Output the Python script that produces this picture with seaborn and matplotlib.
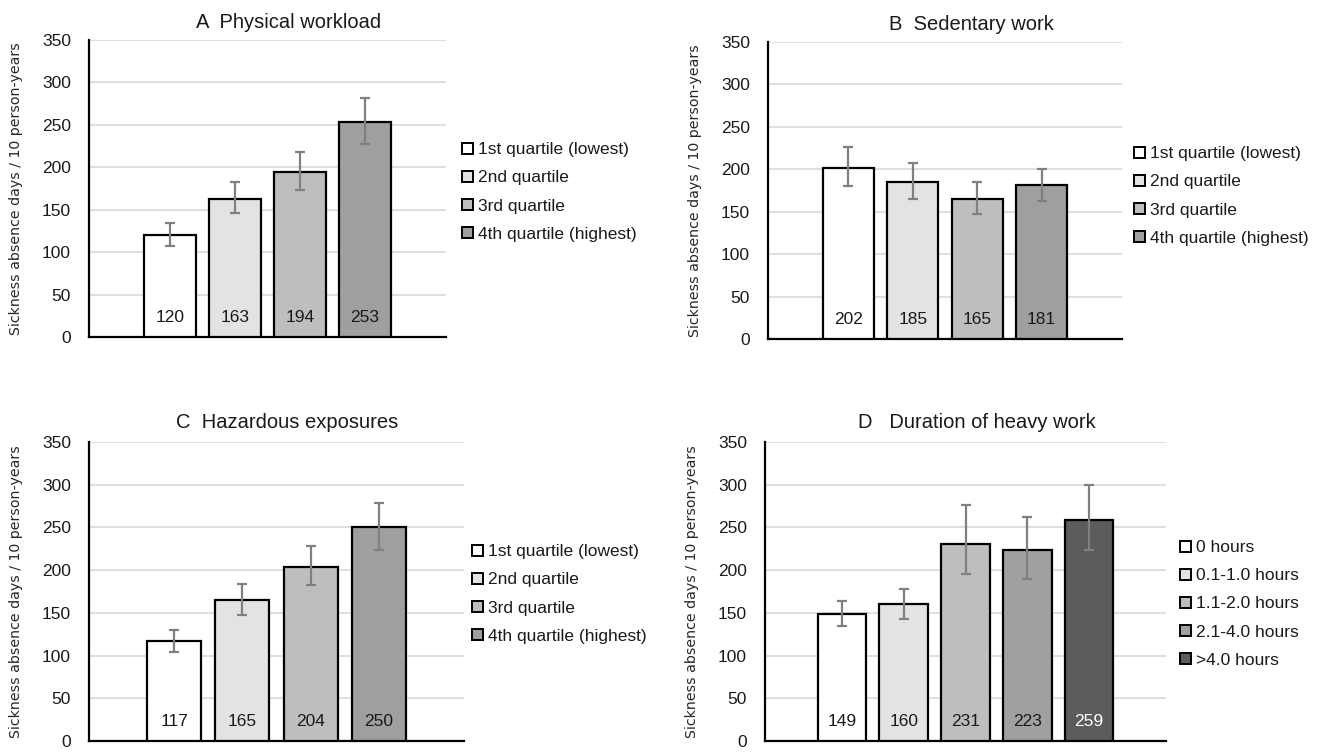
import matplotlib
matplotlib.use("Agg")
import matplotlib.pyplot as plt
from matplotlib.patches import Patch
import seaborn as sns

W, H = 1320, 752

quartiles = ["1st quartile (lowest)", "2nd quartile", "3rd quartile", "4th quartile (highest)"]
hours = ["0 hours", "0.1-1.0 hours", "1.1-2.0 hours", "2.1-4.0 hours", ">4.0 hours"]

phys_vals = [120, 163, 194, 253]
phys_lo = [107, 146, 173, 227]
phys_hi = [134, 183, 218, 282]

sed_vals = [202, 185, 165, 181]
sed_lo = [180, 165, 147, 163]
sed_hi = [226, 207, 185, 200]

haz_vals = [117, 165, 204, 250]
haz_lo = [104, 148, 183, 224]
haz_hi = [130, 184, 228, 279]

heavy_vals = [149, 160, 231, 223, 259]
heavy_lo = [135, 143, 195, 190, 224]
heavy_hi = [164, 178, 276, 262, 300]

quart_colors = ["#ffffff", "#e3e3e3", "#bebebe", "#9f9f9f"]
hour_colors = ["#ffffff", "#e3e3e3", "#bebebe", "#a0a0a0", "#5c5c5c"]

sns.set_theme(style="white")
plt.rcParams["font.family"] = ["Liberation Sans Narrow", "Liberation Sans", "DejaVu Sans"]
plt.rcParams["text.color"] = "#1a1a1a"
plt.rcParams["ytick.color"] = "#1a1a1a"

fig = plt.figure(figsize=(W / 100, H / 100), dpi=100)


def px_axes(left, top, right, bottom):
    return fig.add_axes([left / W, 1 - bottom / H, (right - left) / W, (bottom - top) / H])


def draw_panel(box, title, title_xy, cats, vals, lo, hi, colors, leg_xy):
    ax = px_axes(*box)
    sns.barplot(x=cats, y=vals, hue=cats, palette=colors, edgecolor="black",
                linewidth=1.6, width=0.79, legend=False, ax=ax, zorder=3)
    pos = list(range(len(cats)))
    err = [[v - l for v, l in zip(vals, lo)], [h - v for v, h in zip(vals, hi)]]
    ax.errorbar(pos, vals, yerr=err, fmt="none", ecolor="#808080",
                elinewidth=1.6, capsize=3.5, capthick=1.6, zorder=4)
    for p, v, c in zip(pos, vals, colors):
        ax.text(p, 23, str(v), ha="center", va="center", fontsize=12.5,
                color="white" if c == "#5c5c5c" else "#1a1a1a", zorder=5)

    ax.set_xlim(-1.25, len(cats) - 1 + 1.25)
    ax.set_ylim(0, 350)
    ax.set_yticks(range(0, 351, 50))
    ax.set_xticks([])
    ax.tick_params(axis="y", length=0, pad=13, labelsize=12.5)
    ax.grid(axis="y", color="#d9d9d9", linewidth=1.2, zorder=0)
    ax.set_axisbelow(True)
    for s in ["top", "right"]:
        ax.spines[s].set_visible(False)
    ax.spines["left"].set_color("black")
    ax.spines["left"].set_linewidth(1.6)
    ax.spines["bottom"].set_color("black")
    ax.spines["bottom"].set_linewidth(1.6)
    ax.set_xlabel("")
    ax.set_ylabel("Sickness absence days / 10 person-years", fontsize=10.2,
                  family="DejaVu Sans")
    ax.yaxis.set_label_coords(-66 / (box[2] - box[0]), 0.5)

    fig.text(title_xy[0] / W, 1 - title_xy[1] / H, title, ha="center", va="center",
             fontsize=14.5)

    handles = [Patch(facecolor=c, edgecolor="black", linewidth=1.4) for c in colors]
    ax.legend(handles, cats, loc="center left",
              bbox_to_anchor=(leg_xy[0] / W, 1 - leg_xy[1] / H),
              bbox_transform=fig.transFigure, frameon=False, fontsize=12.5,
              handlelength=0.65, handleheight=0.65, handletextpad=0.3,
              labelspacing=0.75, borderpad=0, borderaxespad=0)
    return ax


draw_panel((89, 40, 446, 337), "A  Physical workload", (289, 22),
           quartiles, phys_vals, phys_lo, phys_hi, quart_colors, (462, 192))
draw_panel((768, 42, 1122, 339), "B  Sedentary work", (971, 24),
           quartiles, sed_vals, sed_lo, sed_hi, quart_colors, (1134, 196))
draw_panel((89, 442, 464, 741), "C  Hazardous exposures", (287, 423),
           quartiles, haz_vals, haz_lo, haz_hi, quart_colors, (472, 594))
draw_panel((765, 442, 1166, 741), "D   Duration of heavy work", (977, 423),
           hours, heavy_vals, heavy_lo, heavy_hi, hour_colors, (1180, 604))

fig.savefig("out.png", dpi=100)
